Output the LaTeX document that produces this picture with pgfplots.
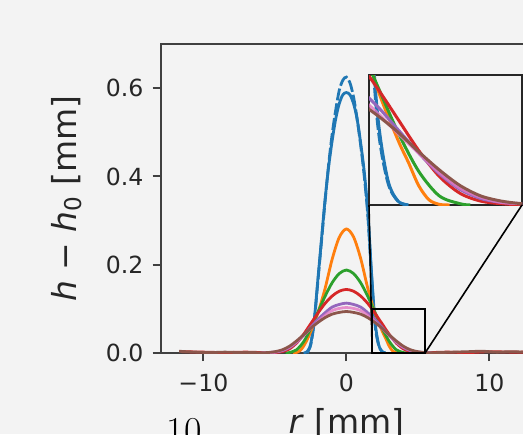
\documentclass[border=0pt]{standalone}
\usepackage{fontspec}
\setmainfont{DejaVu Sans}
\newfontfamily\lmfont{Latin Modern Roman}
\usepackage{pgfplots}
\pgfplotsset{compat=1.18}
\usepackage{pgfplotstable}
\definecolor{bgc}{HTML}{F3F3F3}
\definecolor{cblue}{HTML}{1F77B4}
\definecolor{corange}{HTML}{FF7F0E}
\definecolor{cgreen}{HTML}{2CA02C}
\definecolor{cred}{HTML}{D62728}
\definecolor{cpurple}{HTML}{9467BD}
\definecolor{cbrown}{HTML}{8C564B}
\definecolor{cpink}{HTML}{E377C2}

% profiles h - h0 (mm) against r (mm)
\pgfplotstableread[row sep=\\]{
r h\\ -3 0\\ -2.75 0.003\\ -2.5 0.02\\ -2.25 0.075\\ -2 0.165\\ -1.75 0.255\\
-1.5 0.345\\ -1.25 0.42\\ -1 0.48\\ -0.75 0.53\\ -0.5 0.565\\ -0.25 0.585\\ 0 0.59\\
0.25 0.585\\ 0.5 0.565\\ 0.75 0.53\\ 1 0.475\\ 1.25 0.41\\ 1.5 0.32\\ 1.75 0.185\\
2 0.072\\ 2.25 0.02\\ 2.5 0.003\\ 2.75 0\\
}\tblue
\pgfplotstableread[row sep=\\]{
r h\\ -2.75 0\\ -2.5 0.018\\ -2.25 0.07\\ -2 0.16\\ -1.75 0.25\\ -1.5 0.34\\
-1.25 0.425\\ -1 0.495\\ -0.75 0.55\\ -0.5 0.595\\ -0.25 0.618\\ 0 0.625\\
0.25 0.612\\ 0.5 0.58\\ 0.75 0.53\\ 1 0.47\\ 1.25 0.4\\ 1.5 0.31\\ 1.75 0.18\\
2 0.065\\ 2.25 0.018\\ 2.5 0.003\\ 2.75 0\\
}\tbluedash
\pgfplotstableread[row sep=\\]{
r h\\ -3.75 0\\ -3.5 0.001\\ -3.25 0.005\\ -3 0.015\\ -2.75 0.03\\ -2.5 0.048\\
-2 0.09\\ -1.5 0.145\\ -1 0.212\\ -0.5 0.262\\ 0 0.281\\ 0.5 0.263\\ 1 0.214\\
1.5 0.146\\ 2 0.09\\ 2.5 0.05\\ 2.75 0.033\\ 3 0.015\\ 3.25 0.004\\ 3.5 0.0005\\ 3.75 0\\
}\torange
\pgfplotstableread[row sep=\\]{
r h\\ -4.25 0\\ -4 0.001\\ -3.5 0.007\\ -3 0.025\\ -2.5 0.055\\ -2 0.092\\
-1.5 0.128\\ -1 0.159\\ -0.5 0.18\\ 0 0.188\\ 0.5 0.18\\ 1 0.159\\ 1.5 0.128\\
2 0.092\\ 2.5 0.056\\ 3 0.026\\ 3.5 0.007\\ 4 0.001\\ 4.25 0\\
}\tgreen
\pgfplotstableread[row sep=\\]{
r h\\ -11.5 0.003\\ -10 0.002\\ -8.5 0.001\\ -7 0.002\\ -5.5 0.0005\\ -5 0.001\\
-4.5 0.003\\ -4 0.009\\ -3.5 0.022\\ -3 0.042\\ -2.5 0.066\\ -2 0.09\\ -1.5 0.112\\
-1 0.129\\ -0.5 0.14\\ 0 0.144\\ 0.5 0.14\\ 1 0.129\\ 1.5 0.112\\ 2 0.09\\
2.5 0.066\\ 3 0.042\\ 3.5 0.022\\ 4 0.009\\ 4.5 0.003\\ 5 0.001\\ 5.5 0.0005\\
7 0.002\\ 8.5 0.001\\ 10 0.003\\ 11.5 0.002\\ 13 0.002\\
}\tred
\pgfplotstableread[row sep=\\]{
r h\\ -6 0\\ -5.5 0.001\\ -5 0.002\\ -4.5 0.005\\ -4 0.012\\ -3.5 0.024\\ -3 0.04\\
-2.5 0.058\\ -2 0.076\\ -1.5 0.091\\ -1 0.104\\ -0.5 0.11\\ 0 0.113\\ 0.5 0.11\\
1 0.104\\ 1.5 0.091\\ 2 0.076\\ 2.5 0.058\\ 3 0.04\\ 3.5 0.024\\ 4 0.012\\
4.5 0.005\\ 5 0.002\\ 5.5 0.001\\ 6 0\\
}\tpurple
\pgfplotstableread[row sep=\\]{
r h\\ -6 0\\ -5.5 0.001\\ -5 0.002\\ -4.5 0.006\\ -4 0.013\\ -3.5 0.025\\ -3 0.04\\
-2.5 0.055\\ -2 0.071\\ -1.5 0.085\\ -1 0.096\\ -0.5 0.101\\ 0 0.103\\ 0.5 0.101\\
1 0.096\\ 1.5 0.085\\ 2 0.071\\ 2.5 0.055\\ 3 0.04\\ 3.5 0.025\\ 4 0.013\\
4.5 0.006\\ 5 0.002\\ 5.5 0.001\\ 6 0\\
}\tpink
\pgfplotstableread[row sep=\\]{
r h\\ -11.7 0.004\\ -11.2 0.003\\ -10.5 0.002\\ -9.5 0.001\\ -8.5 0.002\\
-7.5 0.001\\ -6.5 0.001\\ -6 0.0005\\ -5.5 0.001\\ -5 0.003\\ -4.5 0.007\\
-4 0.015\\ -3.5 0.027\\ -3 0.041\\ -2.5 0.056\\ -2 0.069\\ -1.5 0.08\\ -1 0.088\\
-0.5 0.092\\ 0 0.094\\ 0.5 0.092\\ 1 0.088\\ 1.5 0.08\\ 2 0.069\\ 2.5 0.056\\
3 0.041\\ 3.5 0.027\\ 4 0.015\\ 4.5 0.007\\ 5 0.003\\ 5.5 0.001\\ 6 0.0005\\
6.5 0.001\\ 7.5 0.002\\ 8.5 0.003\\ 9.5 0.004\\ 10.5 0.002\\ 11.5 0.003\\
12.5 0.002\\ 13 0.002\\
}\tbrown

\newcommand{\profiles}{%
  \addplot[cblue, smooth] table[x=r, y=h]{\tblue};
  \addplot[cblue, smooth, dash pattern=on 6pt off 1.5pt] table[x=r, y=h]{\tbluedash};
  \addplot[corange, smooth] table[x=r, y=h]{\torange};
  \addplot[cgreen, smooth] table[x=r, y=h]{\tgreen};
  \addplot[cred, smooth] table[x=r, y=h]{\tred};
  \addplot[cpurple, smooth] table[x=r, y=h]{\tpurple};
  \addplot[cpink, smooth, opacity=0.8] table[x=r, y=h]{\tpink};
  \addplot[cbrown, smooth] table[x=r, y=h]{\tbrown};
}

\begin{document}
\begin{tikzpicture}
\path[use as bounding box, fill=bgc] (0pt,0pt) rectangle (261.5pt,217pt);
\clip (0pt,0pt) rectangle (261.5pt,217pt);

\begin{axis}[
  name=main, at={(80.25pt,40.5pt)}, anchor=south west,
  scale only axis, width=185.9pt, height=154.5pt,
  xmin=-13, xmax=13, ymin=0, ymax=0.7,
  xtick={-10,0,10}, xticklabels={−10,0,10},
  ytick={0,0.2,0.4,0.6}, yticklabels={0.0,0.2,0.4,0.6},
  tick pos=left, tick align=outside, major tick length=4pt,
  axis line style={line width=1pt, draw=black!75},
  every tick/.style={line width=1pt, draw=black!75},
  tick label style={font=\fontsize{11.8}{14}\selectfont, text=black!85},
  yticklabel style={xshift=-1pt},
  xticklabel style={yshift=-3pt},
  xlabel={\textit{r} [mm]},
  ylabel={\textit{h} − \textit{h}\textsubscript{0} [mm]},
  label style={font=\fontsize{16.5}{19}\selectfont, text=black!85},
  xlabel style={at={(axis description cs:0.5,-0.178)}, anchor=north, inner sep=0pt},
  ylabel style={at={(axis description cs:-0.2515,0.5)}, anchor=center, inner sep=0pt},
  axis background/.style={fill=bgc},
  every axis plot/.append style={line width=1.4pt},
]
\profiles
\draw[black, line width=0.8pt] (axis cs:1.8,0) rectangle (axis cs:5.5,0.1);
\coordinate (bl) at (axis cs:1.8,0);
\coordinate (br) at (axis cs:5.5,0);
\end{axis}

\begin{axis}[
  name=ins, at={(184.5pt,114.5pt)}, anchor=south west,
  scale only axis, width=76.5pt, height=65pt,
  xmin=1.8, xmax=5.5, ymin=0, ymax=0.1,
  ticks=none,
  axis line style={line width=0.9pt, draw=black!85},
  axis background/.style={fill=bgc},
  every axis plot/.append style={line width=1.5pt},
]
\profiles
\end{axis}

\draw[line width=0.8pt] (ins.south west) -- (bl);
\draw[line width=0.8pt] (ins.south east) -- (br);

\node[anchor=north, inner sep=0pt, font=\lmfont\fontsize{19}{22}\selectfont] at (92pt,8pt) {10};
\end{tikzpicture}
\end{document}
